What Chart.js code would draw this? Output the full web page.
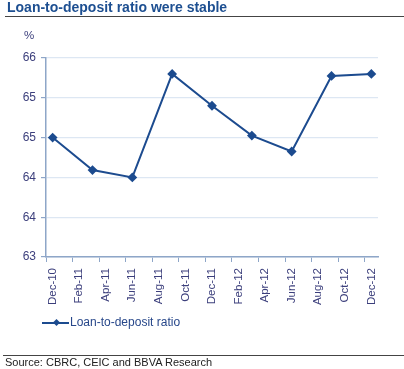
<!DOCTYPE html>
<html>
<head>
<meta charset="utf-8">
<script src="https://cdn.jsdelivr.net/npm/chart.js@4.4.1/dist/chart.umd.min.js"></script>
<style>
  body { margin: 0; background: #fff; font-family: "Liberation Sans", Arial, sans-serif; }
  #wrap { position: relative; width: 404px; height: 369px; overflow: hidden; }
  #chart { position: absolute; left: 0; top: 0; }
  .title { position: absolute; left: 7px; top: -1px; font-size: 14px; font-weight: bold; color: #1d4f91; }
  .rule { position: absolute; left: 5px; right: 0; height: 1px; background: #444; }
  .pct { position: absolute; left: 24px; top: 29px; font-size: 11.5px; color: #3c3f7c; }
  .legend { position: absolute; left: 42px; top: 315px; font-size: 12px; color: #27478a; }
  .legend .ln { position: absolute; left: 0; top: 7px; width: 27px; height: 2px; background: #1c4b8f; }
  .legend .mk { position: absolute; left: 12px; top: 5px; width: 5px; height: 5px; background: #1c4b8f; transform: rotate(45deg); }
  .legend .tx { position: absolute; left: 28px; top: 0; white-space: nowrap; }
  .source { position: absolute; left: 5px; top: 356px; font-size: 11px; color: #222; }
</style>
</head>
<body>
<div id="wrap">
  <canvas id="chart" width="404" height="369"></canvas>
  <div class="title">Loan-to-deposit ratio were stable</div>
  <div class="rule" style="top:16px"></div>
  <div class="pct">%</div>
  <div class="legend"><span class="ln"></span><span class="mk"></span><span class="tx">Loan-to-deposit ratio</span></div>
  <div class="rule" style="top:355px; left:3px"></div>
  <div class="source">Source: CBRC, CEIC and BBVA Research</div>
</div>
<script>
// monthly axis, labelled every second month
let months = ['Dec-10', 'Jan-11', 'Feb-11', 'Mar-11', 'Apr-11', 'May-11', 'Jun-11', 'Jul-11', 'Aug-11', 'Sep-11', 'Oct-11', 'Nov-11',
    'Dec-11', 'Jan-12', 'Feb-12', 'Mar-12', 'Apr-12', 'May-12', 'Jun-12', 'Jul-12', 'Aug-12', 'Sep-12', 'Oct-12', 'Nov-12', 'Dec-12'];

// quarterly observations
let quarters = ['Dec-10', 'Mar-11', 'Jun-11', 'Sep-11', 'Dec-11', 'Mar-12', 'Jun-12', 'Sep-12', 'Dec-12'];
let ratio = [64.8, 64.31, 64.2, 65.76, 65.28, 64.83, 64.59, 65.73, 65.76];

let yTicks = [63, 63.6, 64.2, 64.8, 65.4, 66];

let axisColor = '#8ea6c8';
let labelColor = '#3c3f7c';
let lineColor = '#1c4b8f';

let ctx = document.getElementById('chart').getContext('2d');

let myChart = new Chart(ctx, {
    type: 'line',
    data: {
        labels: months,
        datasets: [{
            label: 'Loan-to-deposit ratio',
            data: quarters.map((q, i) => ({ x: q, y: ratio[i] })),
            borderColor: lineColor,
            backgroundColor: lineColor,
            borderWidth: 2,
            pointStyle: 'rectRot',
            pointRadius: 3.5,
            tension: 0
        }]
    },
    options: {
        responsive: false,
        animation: false,
        layout: {
            padding: { top: 58, left: 0, right: 26, bottom: 62 }
        },
        plugins: {
            legend: { display: false },
            tooltip: { enabled: false }
        },
        scales: {
            x: {
                type: 'category',
                offset: true,
                grid: {
                    offset: true,
                    drawOnChartArea: false,
                    tickLength: 5,
                    tickColor: (c) => (c.index % 2 === 0 ? axisColor : 'rgba(0,0,0,0)')
                },
                border: { color: axisColor, width: 1.5 },
                ticks: {
                    autoSkip: false,
                    minRotation: 90,
                    maxRotation: 90,
                    padding: 6,
                    color: labelColor,
                    font: { family: '"Liberation Sans", Arial, sans-serif', size: 11.5 },
                    callback: (v, i) => (i % 2 === 0 ? months[i] : '')
                },
                afterFit: (scale) => { scale.height = 50; }
            },
            y: {
                min: 63,
                max: 66,
                afterBuildTicks: (scale) => { scale.ticks = yTicks.map(v => ({ value: v })); },
                grid: {
                    color: '#dde7f3',
                    lineWidth: 1.2,
                    tickLength: 5,
                    tickColor: axisColor
                },
                border: { color: axisColor, width: 1.5 },
                ticks: {
                    padding: 5,
                    color: labelColor,
                    font: { family: '"Liberation Sans", Arial, sans-serif', size: 12 },
                    callback: (v) => Math.round(v)
                },
                afterFit: (scale) => { scale.width = 46; }
            }
        }
    }
});
</script>
</body>
</html>
